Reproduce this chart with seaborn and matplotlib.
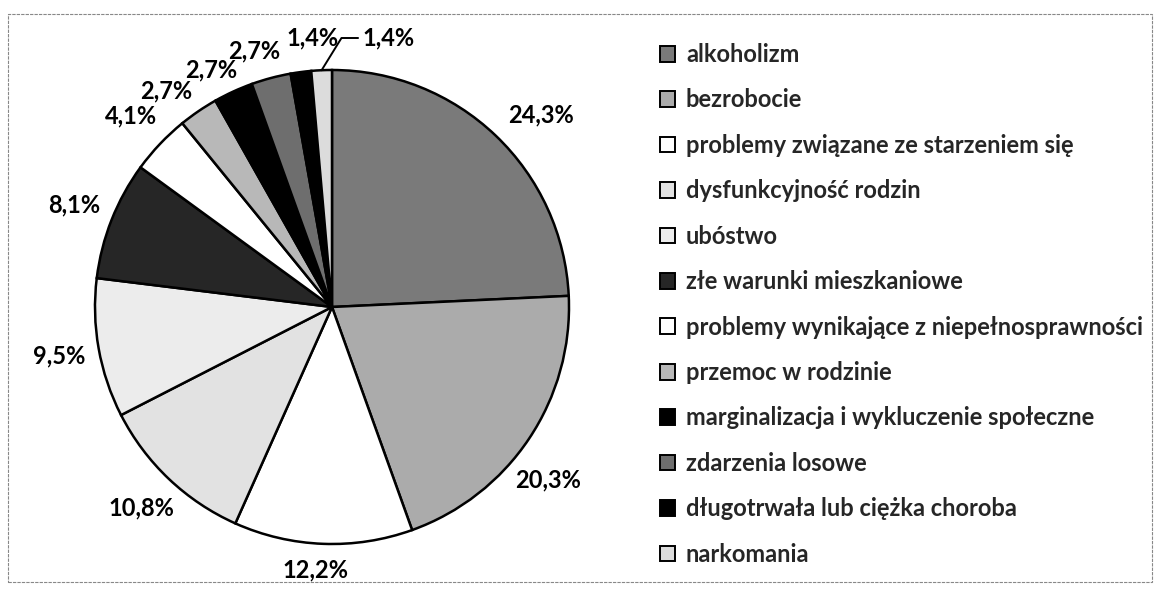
import numpy as np
import matplotlib
matplotlib.use('Agg')
import matplotlib.pyplot as plt
import seaborn as sns
from matplotlib.patches import Rectangle

sns.set_style('white')
plt.rcParams['font.family'] = ['Lato', 'DejaVu Sans']

# dane
categories = ['alkoholizm', 'bezrobocie', 'problemy związane ze starzeniem się',
              'dysfunkcyjność rodzin', 'ubóstwo', 'złe warunki mieszkaniowe',
              'problemy wynikające z niepełnosprawności', 'przemoc w rodzinie',
              'marginalizacja i wykluczenie społeczne', 'zdarzenia losowe',
              'długotrwała lub ciężka choroba', 'narkomania']
values = [24.3, 20.3, 12.2, 10.8, 9.5, 8.1, 4.1, 2.7, 2.7, 2.7, 1.4, 1.4]
colors = ['#7a7a7a', '#ababab', '#ffffff', '#e2e2e2', '#ececec', '#262626',
          '#ffffff', '#b8b8b8', '#000000', '#6e6e6e', '#000000', '#dcdcdc']
labels = [f'{v:.1f}%'.replace('.', ',') for v in values]

# ręczne pozycje etykiet (środek tekstu, w promieniach)
small_pos = {0: (0.88, 0.81), 1: (0.91, -0.73), 2: (-0.07, -1.11),
             7: (-0.70, 0.91), 8: (-0.51, 1.00), 9: (-0.33, 1.08), 10: (-0.08, 1.135)}

fig = plt.figure(figsize=(11.57, 5.97), dpi=100)
W, H = 1157, 597
cx, cy, R = 332, 307, 237
ax = fig.add_axes([(cx - 1.4 * R) / W, (H - cy - 1.2 * R) / H, 2.8 * R / W, 2.4 * R / H])

wedges, texts = ax.pie(values, colors=colors, startangle=90, counterclock=False,
                       labels=labels, labeldistance=1.17,
                       wedgeprops=dict(edgecolor='black', linewidth=1.8),
                       textprops=dict(fontsize=17, fontweight='bold', color='black'))
for i, t in enumerate(texts):
    t.set_ha('center')
    t.set_va('center')
    if i in small_pos:
        t.set_position(small_pos[i])

# ostatni wycinek z linią odniesienia
w = wedges[-1]
th = np.deg2rad((w.theta1 + w.theta2) / 2)
x0, y0 = np.cos(th), np.sin(th)
texts[-1].set_position((0.13, 1.135))
texts[-1].set_ha('left')
ax.plot([x0, 0.04, 0.11], [y0, 1.135, 1.135], color='black', lw=1.4)

ax.set_xlim(-1.4, 1.4)
ax.set_ylim(-1.2, 1.2)
ax.set_aspect('equal')
ax.axis('off')

fig.legend(wedges, categories, loc='upper left', bbox_to_anchor=(660 / W, 1 - 43 / H),
           frameon=False, prop=dict(weight='bold', size=17),
           handlelength=0.65, handleheight=0.65, handletextpad=0.45,
           labelspacing=0.95, borderpad=0, borderaxespad=0)
for h in fig.legends[0].legend_handles:
    h.set_linewidth(1.4)

fig.patches.append(Rectangle((8 / W, 1 - 582 / H), 1144 / W, 568 / H, transform=fig.transFigure,
                             fill=False, edgecolor='#888888', lw=0.8, linestyle=(0, (3, 1))))

fig.savefig('out.png', dpi=100, facecolor='white')
